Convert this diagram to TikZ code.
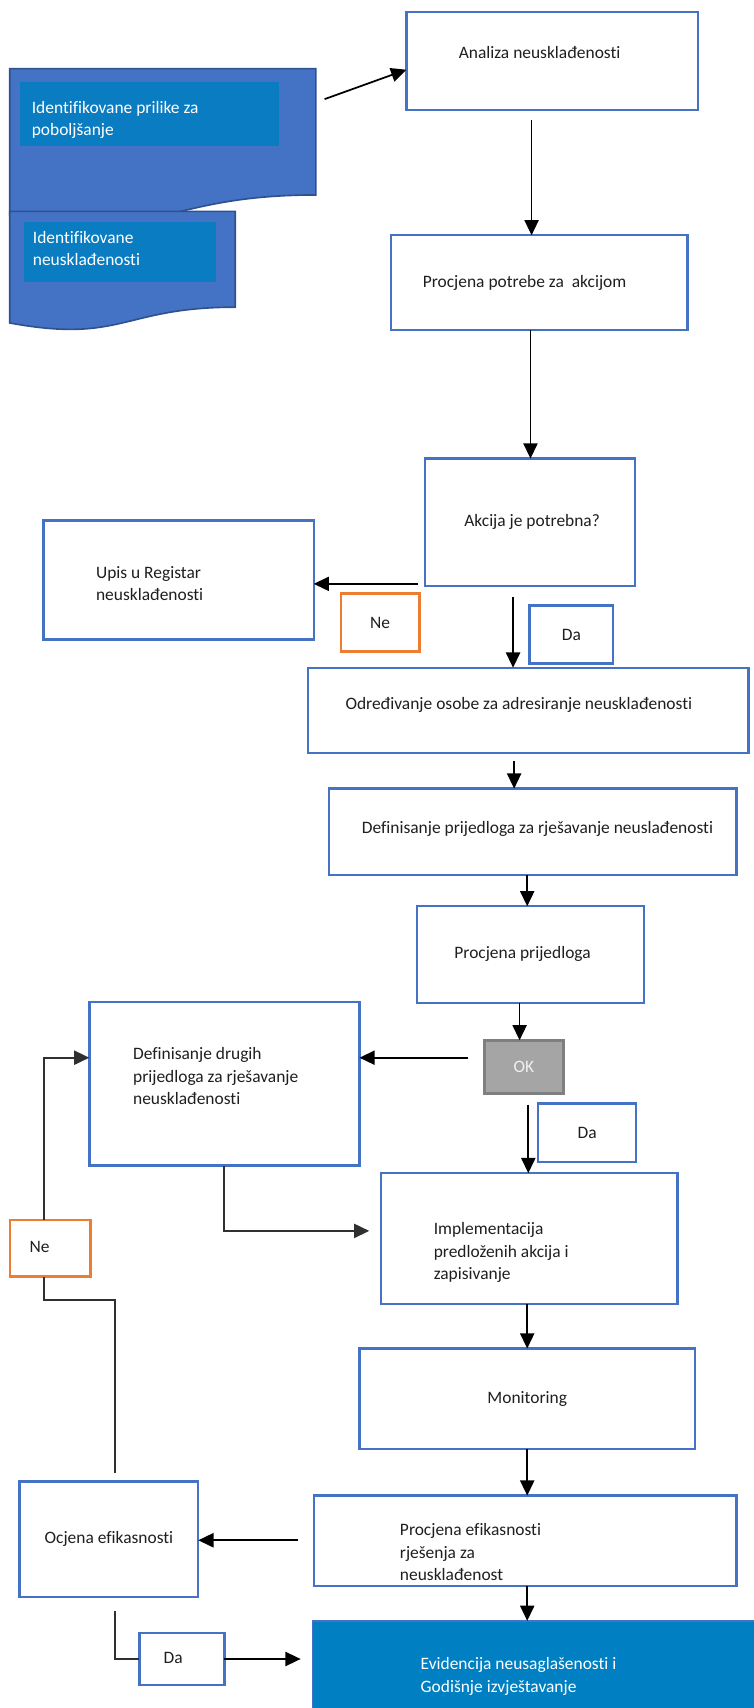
\documentclass[tikz,border=0pt]{standalone}
\usepackage{fontspec}
\setmainfont{Carlito}[Ligatures={NoCommon,NoRare,NoContextual}]
\usetikzlibrary{arrows.meta}
\definecolor{bbl}{HTML}{4472C4}
\definecolor{docb}{HTML}{2F528F}
\definecolor{inb}{HTML}{0A7DC2}
\definecolor{evb}{HTML}{0080C2}
\definecolor{orn}{HTML}{ED7D31}
\definecolor{okf}{HTML}{A5A5A5}
\definecolor{okb}{HTML}{7F7F7F}
\definecolor{txc}{HTML}{1F1F1F}
\definecolor{lnk}{HTML}{303030}
\newcommand\bx[7]{\node[#6, anchor=north west, outer sep=0pt, inner sep=0pt, minimum width={(#4-#2)*1pt}, minimum height={(#5-#3)*1pt}] (#1) at (#2,#3) {#7};}
\tikzset{
  box/.style={draw=bbl, line width=2.2pt, fill=white, text=txc, font=\fontsize{16}{20.5}\selectfont},
  obox/.style={draw=orn, line width=2.2pt, fill=white, text=txc, font=\fontsize{16}{20.5}\selectfont},
  okbox/.style={draw=okb, line width=2.6pt, fill=okf, text=white!88!gray, font=\fontsize{16}{20.5}\selectfont},
  evbox/.style={draw=bbl, line width=1.4pt, fill=evb},
  tx/.style={text=txc, inner sep=0pt, align=left, font=\fontsize{16}{20.5}\selectfont},
  wtx/.style={tx, text=white},
  arr/.style={draw=black, line width=1.6pt, -{Triangle[length=14pt,width=13pt]}},
  larr/.style={draw=lnk, line width=1.8pt, -{Triangle[length=14pt,width=13pt]}},
  lk/.style={draw=lnk, line width=1.8pt},
  docshape/.style={fill=bbl, draw=docb, line width=1.5pt},
  inrect/.style={fill=inb, draw=none}
}
\begin{document}
\begin{tikzpicture}[x=1pt,y=-1pt]
\useasboundingbox (0,0) rectangle (692,1568);
% document shapes
\draw[docshape] (9,63) -- (290,63) -- (290,179) .. controls (149.5,179) and (149.5,223) .. (9,198) -- cycle;
\fill[inrect] (18,75) rectangle (256,134);
\node[wtx, anchor=west] (tD1) at (29,110) {Identifikovane prilike za\\poboljšanje};
\draw[docshape] (9,194) -- (216,194) -- (216,282) .. controls (112.5,282) and (112.5,315.6) .. (9,296.5) -- cycle;
\fill[inrect] (22,204) rectangle (198,259);
\node[wtx, anchor=west] (tD2) at (30,228) {Identifikovane\\neusklađenosti};
\coordinate (dA) at (298,91);
% boxes
\bx{ana}{373}{11}{641}{101}{box}{}
\node[tx, anchor=west] (tAna) at (421,48) {Analiza neusklađenosti};
\bx{proc1}{359}{216}{631}{303}{box}{}
\node[tx, anchor=west] (tP1) at (388,260) {Procjena potrebe za\ \ akcijom};
\bx{akc}{390}{421}{583}{538}{box}{}
\node[tx, anchor=west] (tAkc) at (426,479) {Akcija je potrebna?};
\bx{upis}{40}{478}{288}{587}{box}{}
\node[tx, anchor=west] (tUpis) at (88,536) {Upis u Registar\\neusklađenosti};
\bx{ne1}{313}{545}{385}{598}{obox}{Ne}
\bx{da1}{486}{556}{563}{609}{box}{Da}
\bx{odr}{283}{613}{687}{691}{box}{}
\node[tx, anchor=west] (tOdr) at (317,647) {Određivanje osobe za adresiranje neusklađenosti};
\bx{def1}{302}{724}{676}{803}{box}{}
\node[tx, anchor=west] (tDef1) at (332,761) {Definisanje prijedloga za rješavanje neuslađenosti};
\bx{pp}{383}{832}{591}{921}{box}{}
\node[tx, anchor=west] (tPP) at (417,876) {Procjena prijedloga};
\bx{ok}{445}{955}{517}{1004}{okbox}{OK}
\bx{def2}{82}{920}{330}{1070}{box}{}
\node[tx, anchor=west] (tDef2) at (122,988) {Definisanje drugih\\prijedloga za rješavanje\\neusklađenosti};
\bx{da2}{494}{1013}{584}{1067}{box}{Da}
\bx{impl}{350}{1077}{622}{1197}{box}{}
\node[tx, anchor=west] (tImpl) at (398,1150) {Implementacija\\predloženih akcija i\\zapisivanje};
\bx{ne2}{9}{1120}{83}{1172}{obox}{}
\node[tx, anchor=west] (tNe2) at (27,1145) {Ne};
\bx{mon}{330}{1238}{638}{1330}{box}{Monitoring}
\bx{pe}{288}{1373}{676}{1456}{box}{}
\node[tx, anchor=west] (tPE) at (367,1425) {Procjena efikasnosti\\rješenja za\\neusklađenost};
\bx{ocj}{18}{1360}{182}{1466}{box}{Ocjena efikasnosti}
\bx{ev}{287}{1488}{700}{1580}{evbox}{}
\node[wtx, anchor=west] (tEv) at (386,1539) {Evidencija neusaglašenosti i\\Godišnje izvještavanje};
\bx{da3}{128}{1499}{206}{1547}{box}{}
\node[tx] (tDa3) at (159,1522) {Da};
% connectors
\draw[arr] (dA) -- ([yshift=-53pt]ana.north west);
\coordinate (s1) at (488,110);
\draw[arr] (s1) -- (s1 |- proc1.north);
\draw[arr] ([xshift=128pt]proc1.south west) coordinate (s2) -- (s2 |- akc.north);
\coordinate (s4) at (384,536);
\draw[arr] (s4) -- (s4 -| upis.east);
\coordinate (s5) at (471,548);
\draw[arr] (s5) -- (s5 |- odr.north);
\coordinate (s6) at (472,699);
\draw[arr] (s6) -- (s6 |- def1.north);
\draw[arr] ([xshift=182pt]def1.south west) coordinate (s7) -- (s7 |- pp.north);
\draw[arr] ([xshift=94pt]pp.south west) coordinate (s8) -- (s8 |- ok.north);
\coordinate (s9) at (430,971);
\draw[arr] (s9) -- (s9 -| def2.east);
\coordinate (s10) at (485,1014);
\draw[arr] (s10) -- (s10 |- impl.north);
\coordinate (e11) at (339,1130);
\draw[larr] ([xshift=124pt]def2.south west) coordinate (s11) |- (e11);
\draw[arr] ([xshift=134pt]impl.south west) coordinate (s12) -- (s12 |- mon.north);
\draw[arr] ([xshift=154pt]mon.south west) coordinate (s13) -- (s13 |- pe.north);
\coordinate (s14) at (274,1414);
\draw[arr] (s14) -- (s14 -| ocj.east);
\draw[arr] ([xshift=196pt]pe.south west) coordinate (s15) -- (s15 |- ev.north);
\coordinate (s16) at (106,1479);
\draw[lk] (s16) |- (da3.west);
\coordinate (e17) at (276,1523);
\draw[arr] (da3.east) -- (e17);
\coordinate (s18) at (106,1352);
\coordinate (k18) at (106,1193);
\draw[lk] (s18) -- (k18) -| ([xshift=-6pt]ne2.south);
\draw[larr] ([xshift=-6pt]ne2.north) |- ([yshift=-51pt]def2.north west);
\end{tikzpicture}
\end{document}
